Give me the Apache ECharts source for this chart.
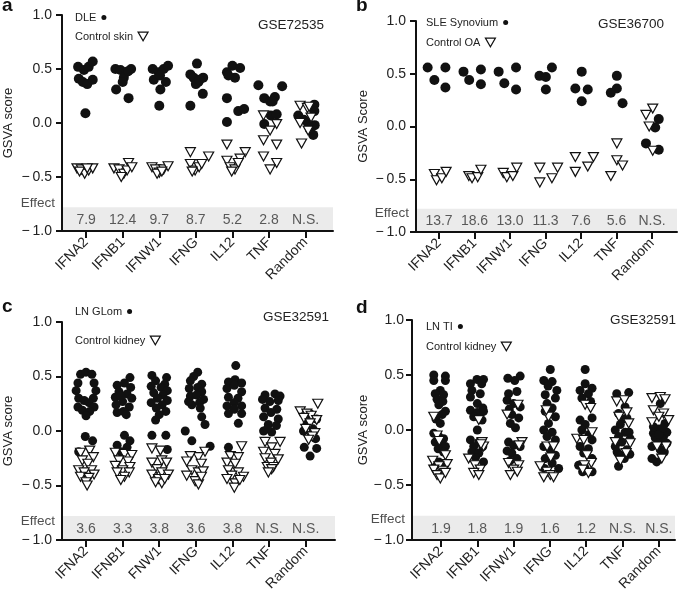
<!DOCTYPE html>
<html><head><meta charset="utf-8">
<script src="https://cdn.jsdelivr.net/npm/echarts@6/dist/echarts.min.js"></script>
<style>html,body{margin:0;padding:0;background:#fff}#c{width:685px;height:595px}</style>
</head><body><div id="c"></div>
<script>
// ---------- DATA ----------
const catsA = ['IFNA2','IFNB1','IFNW1','IFNG','IL12','TNF','Random'];
const catsB = ['IFNA2','IFNB1','IFNW1','IFNG','IL12','TNF','Random'];
const catsC = ['IFNA2','IFNB1','FNW1','IFNG','IL12','TNF','Random'];
const catsD = ['IFNA2','IFNB1','IFNW1','IFNG','IL12','TNF','Random'];

const effectA = ['7.9','12.4','9.7','8.7','5.2','2.8','N.S.'];
const effectB = ['13.7','18.6','13.0','11.3','7.6','5.6','N.S.'];
const effectC = ['3.6','3.3','3.8','3.6','3.8','N.S.','N.S.'];
const effectD = ['1.9','1.8','1.9','1.6','1.2','N.S.','N.S.'];

// each: one list per category of [offset within category, GSVA score]
const aCase = [
 [[-0.22,0.52],[-0.06,0.49],[0.07,0.52],[0.18,0.57],[-0.2,0.41],[-0.09,0.38],[0.03,0.36],[0.18,0.40],[-0.02,0.09]],
 [[-0.2,0.5],[-0.06,0.49],[0.09,0.47],[0.23,0.5],[0.03,0.42],[0.0,0.38],[-0.18,0.31],[0.16,0.23],[0.15,0.48]],
 [[-0.18,0.5],[-0.02,0.47],[0.12,0.5],[0.24,0.53],[-0.15,0.4],[0.02,0.44],[0.18,0.38],[0.03,0.31],[0.0,0.16]],
 [[0.03,0.55],[-0.15,0.45],[-0.06,0.42],[0.07,0.38],[0.2,0.42],[0.0,0.36],[0.19,0.27],[-0.15,0.16],[0.1,0.4]],
 [[-0.15,0.47],[0.0,0.53],[0.21,0.51],[0.07,0.42],[-0.11,0.44],[-0.15,0.23],[0.16,0.11],[0.32,0.13],[-0.15,0.01]],
 [[-0.29,0.35],[0.36,0.34],[-0.13,0.23],[0.03,0.2],[0.16,0.24],[0.05,0.07],[0.21,0.08],[-0.13,-0.01],[0.1,0.2]],
 [[0.24,0.17],[0.24,0.11],[-0.2,0.07],[-0.05,0.03],[0.07,0.0],[0.25,-0.02],[0.21,-0.11],[0.12,-0.06],[0.17,-0.03]]
];
const aCtrl = [
 [[-0.25,-0.42],[-0.13,-0.43],[-0.04,-0.47],[0.07,-0.44],[0.18,-0.42],[-0.18,-0.45],[0.03,-0.42]],
 [[-0.24,-0.42],[-0.1,-0.43],[0.03,-0.47],[0.16,-0.37],[0.12,-0.44],[-0.04,-0.5],[0.25,-0.41]],
 [[-0.2,-0.41],[-0.1,-0.43],[0.0,-0.46],[0.12,-0.43],[0.24,-0.4],[-0.06,-0.47],[0.07,-0.45]],
 [[-0.15,-0.27],[0.35,-0.31],[-0.15,-0.38],[-0.02,-0.44],[0.09,-0.41],[0.16,-0.38],[-0.1,-0.45]],
 [[-0.15,-0.2],[0.35,-0.27],[0.21,-0.33],[-0.15,-0.35],[-0.06,-0.41],[0.07,-0.43],[0.16,-0.37],[-0.02,-0.45]],
 [[-0.15,0.07],[0.21,-0.01],[0.03,-0.07],[-0.15,-0.16],[0.21,-0.2],[-0.15,-0.31],[0.21,-0.37],[0.03,-0.43]],
 [[-0.15,0.16],[0.05,0.14],[0.15,0.05],[-0.15,0.0],[0.07,-0.07],[-0.11,-0.19],[0.1,0.15]]
];
const bCase = [
 [[-0.32,0.56],[-0.13,0.44],[0.18,0.56],[0.18,0.37]],
 [[-0.31,0.52],[-0.15,0.44],[0.18,0.54],[0.18,0.40]],
 [[-0.32,0.52],[-0.16,0.41],[0.17,0.56],[0.17,0.35]],
 [[-0.17,0.48],[0.01,0.47],[0.18,0.56],[0.01,0.35]],
 [[0.02,0.52],[-0.16,0.36],[0.19,0.35],[0.02,0.24]],
 [[0.01,0.48],[0.01,0.36],[-0.16,0.32],[0.17,0.22]],
 [[0.19,0.07],[0.09,-0.01],[-0.17,-0.16],[0.19,-0.22]]
];
const bCtrl = [
 [[-0.13,-0.45],[-0.07,-0.51],[0.08,-0.49],[0.2,-0.43]],
 [[-0.16,-0.47],[-0.07,-0.49],[0.09,-0.48],[0.18,-0.41]],
 [[-0.19,-0.44],[-0.09,-0.48],[0.08,-0.47],[0.19,-0.39]],
 [[-0.16,-0.39],[-0.16,-0.53],[0.18,-0.49],[0.34,-0.39]],
 [[-0.16,-0.29],[0.35,-0.29],[0.19,-0.38],[-0.16,-0.43]],
 [[0.01,-0.16],[0.01,-0.32],[0.17,-0.37],[-0.16,-0.47]],
 [[0.02,0.17],[-0.17,0.11],[-0.08,0.0],[0.02,-0.23]]
];
const cCase = [
 [[-0.15,0.52],[0,0.54],[0.16,0.52],[-0.22,0.44],[0.22,0.44],[-0.27,0.37],[0.27,0.37],[-0.2,0.3],[0.2,0.3],[-0.05,0.28],[0.08,0.26],[-0.22,0.22],[0.22,0.22],[-0.1,0.19],[0.1,0.18],[0,0.14],[-0.02,-0.05],[0.18,-0.09],[-0.2,-0.19]],
 [[0.2,0.49],[0.05,0.44],[-0.15,0.42],[0.22,0.4],[-0.1,0.36],[0.12,0.34],[-0.2,0.31],[0.25,0.3],[0,0.27],[-0.18,0.24],[0.18,0.22],[0.02,0.18],[-0.15,0.17],[0.1,0.15],[-0.05,0.32],[0.05,-0.04],[0.2,-0.09],[-0.15,-0.13],[0.12,-0.15],[-0.05,-0.19]],
 [[-0.2,0.51],[0.2,0.49],[-0.1,0.46],[0.15,0.43],[-0.22,0.41],[0.05,0.4],[0.22,0.37],[-0.15,0.35],[0.1,0.33],[-0.05,0.3],[0.22,0.28],[-0.22,0.26],[0.08,0.24],[-0.08,0.21],[0.18,0.18],[0,0.15],[-0.1,0.1],[-0.2,-0.04],[0.18,-0.04],[0.22,-0.17]],
 [[0.05,0.54],[-0.06,0.5],[-0.15,0.46],[0.16,0.43],[-0.18,0.39],[0.05,0.4],[0.16,0.36],[-0.15,0.32],[0.02,0.33],[0.21,0.29],[-0.11,0.24],[0.1,0.26],[-0.2,0.27],[0.12,0.21],[0.16,0.13],[0.25,0.06],[-0.29,0.0],[-0.11,-0.09],[0.39,-0.14]],
 [[0.09,0.6],[0.07,0.47],[-0.11,0.45],[0.25,0.44],[-0.15,0.39],[0.05,0.42],[0.25,0.36],[-0.11,0.31],[0.15,0.3],[-0.15,0.23],[0.25,0.23],[0.05,0.26],[-0.11,0.16],[0.25,0.16],[0.05,0.2],[0.16,0.07],[-0.11,-0.15]],
 [[-0.11,0.33],[0.16,0.34],[0.3,0.32],[-0.18,0.29],[0.25,0.28],[0.02,0.27],[-0.11,0.21],[0.21,0.2],[0.05,0.17],[-0.15,0.13],[0.25,0.11],[-0.02,0.06],[0.2,0.05],[-0.15,0.0],[0.07,-0.01],[-0.05,0.02]],
 [[0.12,0.16],[0.3,0.11],[0.03,0.06],[-0.06,0.0],[0.16,-0.03],[0.27,-0.07],[-0.04,-0.15],[0.3,-0.16],[0.12,-0.23],[0.1,0.1],[0.2,0.02]]
];
const cCtrl = [
 [[0.1,-0.18],[-0.15,-0.2],[0.2,-0.24],[-0.1,-0.27],[0.05,-0.3],[-0.2,-0.36],[0.15,-0.36],[-0.05,-0.38],[0.22,-0.4],[-0.15,-0.42],[0.08,-0.43],[0,-0.47],[0.03,-0.5]],
 [[-0.2,-0.2],[0.05,-0.21],[0.25,-0.22],[-0.1,-0.27],[0.15,-0.28],[-0.2,-0.32],[0.2,-0.33],[0,-0.36],[-0.15,-0.38],[0.18,-0.38],[0.05,-0.42],[-0.05,-0.45]],
 [[-0.2,-0.16],[0.03,-0.18],[0.07,-0.27],[-0.2,-0.29],[0.2,-0.29],[-0.06,-0.35],[0.07,-0.38],[-0.2,-0.4],[0.25,-0.4],[-0.02,-0.44],[0.07,-0.48],[-0.1,-0.47],[0.15,-0.44]],
 [[0.25,-0.19],[0.07,-0.24],[-0.15,-0.23],[-0.25,-0.28],[0.15,-0.3],[-0.11,-0.36],[0.07,-0.38],[0.2,-0.37],[-0.25,-0.41],[-0.02,-0.46],[0.07,-0.49],[0.15,-0.42]],
 [[0.25,-0.14],[-0.06,-0.23],[0.16,-0.24],[-0.15,-0.29],[0.07,-0.3],[-0.11,-0.36],[0.16,-0.38],[0.3,-0.42],[-0.02,-0.41],[-0.15,-0.44],[0.07,-0.48],[0.05,-0.52],[0.2,-0.45]],
 [[-0.11,-0.1],[0.3,-0.1],[0.07,-0.15],[-0.15,-0.19],[0.16,-0.21],[-0.11,-0.25],[0.25,-0.26],[0.05,-0.29],[-0.05,-0.33],[0.12,-0.33],[0.07,-0.35],[-0.02,-0.38]],
 [[0.33,0.25],[-0.15,0.18],[0.03,0.16],[0.15,0.14],[-0.05,0.12],[0.3,0.1],[0.12,0.07],[0.0,0.02],[0.25,-0.02],[0.18,-0.05],[0.08,-0.08]]
];
const dCase = [
 [[-0.2,0.5],[-0.2,0.45],[0.12,0.49],[0.12,0.45],[-0.02,0.36],[-0.16,0.33],[0.07,0.32],[-0.11,0.28],[0.05,0.26],[-0.06,0.23],[0.12,0.17],[0.03,0.14],[-0.14,0.1],[-0.02,0.06],[-0.2,-0.03],[-0.06,-0.06],[0.07,-0.08],[-0.16,-0.11],[0.01,-0.12],[0.12,-0.15],[-0.08,-0.17],[0.07,-0.2],[-0.06,-0.29],[0.07,-0.31],[-0.16,-0.32]],
 [[-0.19,0.42],[-0.01,0.46],[0.17,0.46],[0.12,0.42],[-0.15,0.36],[0.08,0.33],[-0.19,0.3],[0,0.24],[0.15,0.2],[-0.19,0.18],[0,0.16],[0.17,0.17],[-0.1,0.12],[0.13,0.09],[0,0.0],[-0.19,-0.09],[0.04,-0.11],[-0.1,-0.15],[0.15,-0.15],[-0.15,-0.2],[0.04,-0.21],[0.17,-0.29],[-0.05,-0.25]],
 [[-0.16,0.47],[0.03,0.45],[0.18,0.49],[0.09,0.35],[-0.14,0.33],[-0.18,0.27],[0,0.24],[0.18,0.21],[-0.12,0.19],[-0.05,0.14],[0.14,0.11],[-0.09,0.06],[0.05,0.02],[-0.14,-0.11],[0,-0.14],[0.18,-0.15],[-0.18,-0.19],[-0.05,-0.21],[0.09,-0.26],[-0.1,-0.28]],
 [[0.01,0.55],[-0.17,0.45],[0.06,0.44],[-0.05,0.4],[0.19,0.36],[-0.13,0.32],[0.15,0.29],[-0.08,0.24],[0.06,0.2],[-0.13,0.17],[0.15,0.12],[-0.04,0.06],[-0.17,0.0],[0.06,-0.02],[-0.08,-0.06],[0.15,-0.09],[-0.17,-0.15],[0.01,-0.18],[0.15,-0.23],[-0.13,-0.26],[0.06,-0.3],[0.24,-0.35],[-0.15,-0.35]],
 [[-0.03,0.55],[-0.03,0.42],[0.16,0.38],[-0.17,0.36],[0.06,0.33],[-0.12,0.29],[0.12,0.26],[-0.17,0.09],[0.16,0.11],[-0.03,0.05],[-0.12,0.0],[0.08,-0.04],[0.16,-0.09],[-0.17,-0.15],[0.06,-0.17],[-0.07,-0.21],[0.16,-0.26],[-0.21,-0.32],[-0.03,-0.35],[0.16,-0.38],[-0.1,-0.38]],
 [[-0.16,0.33],[0.17,0.34],[0.07,0.21],[0,0.1],[-0.11,0.15],[0.12,0.11],[-0.06,0.05],[-0.2,0.0],[0.07,-0.02],[0.18,-0.02],[-0.11,-0.06],[0.21,-0.08],[-0.02,-0.11],[-0.2,-0.15],[0.12,-0.18],[-0.15,-0.2],[0.2,-0.22],[-0.06,-0.23],[0.05,-0.26],[-0.11,-0.33]],
 [[0.04,0.24],[0.17,0.06],[-0.01,0.01],[-0.15,-0.03],[0.13,-0.06],[0.22,-0.02],[-0.01,-0.12],[0.22,-0.12],[-0.19,-0.15],[0.04,-0.18],[0.15,-0.2],[-0.19,-0.26],[-0.06,-0.29],[0.08,-0.08],[-0.1,-0.07],[0.0,-0.04],[0.12,0.02],[-0.15,0.03]]
];
const dCtrl = [
 [[-0.2,0.12],[-0.11,-0.05],[-0.05,-0.1],[0.12,-0.23],[-0.23,-0.28],[0.17,-0.31],[-0.06,-0.33],[-0.2,-0.36],[0.05,-0.37],[-0.11,-0.41],[-0.02,-0.44],[0.12,-0.39]],
 [[0.04,0.09],[0.13,-0.11],[0.17,-0.15],[-0.24,-0.26],[-0.06,-0.32],[0.08,-0.36],[-0.1,-0.39],[0.04,-0.41],[0.1,-0.13]],
 [[-0.18,0.14],[0.23,-0.11],[0.15,-0.14],[-0.14,-0.3],[0.14,-0.32],[0,-0.36],[-0.09,-0.41],[0.1,-0.38],[0.12,0.23]],
 [[-0.04,0.12],[-0.08,-0.15],[0.1,-0.15],[-0.27,-0.33],[-0.08,-0.38],[0.01,-0.41],[0.1,-0.43],[-0.17,-0.43],[0.02,-0.25],[-0.1,0.18]],
 [[-0.03,0.23],[0.12,0.2],[-0.26,-0.08],[-0.07,-0.09],[0.16,-0.02],[0.02,-0.23],[0.14,-0.3],[-0.05,-0.32],[0.06,-0.39],[-0.1,-0.36]],
 [[-0.16,0.26],[0.05,0.27],[0.12,0.16],[0.17,0.06],[-0.2,-0.11],[0.21,-0.12],[-0.06,-0.28],[0.1,-0.21],[-0.1,0.12]],
 [[-0.19,0.29],[0.04,0.3],[0.17,0.28],[-0.15,0.18],[0.13,0.15],[0.27,0.09],[-0.19,0.07],[0.0,0.12],[0.08,-0.26],[0.2,-0.15],[-0.05,-0.15]]
];

// ---------- LAYOUT ----------
const FONT = 'Liberation Sans, Arial, Helvetica, sans-serif';
const TRI = 'path://M0,0L10,0L5,8.66Z';
const panels = [
 {letter:'a', grid:{left:62,top:15,width:271,height:216}, xMin:-0.66, xMax:6.75, cats:catsA, effect:effectA,
  caseName:'DLE', ctrlName:'Control skin', caseData:aCase, ctrlData:aCtrl, yName:'GSVA score', nameGap:47, labelMargin:10,
  letterPos:{left:2,top:-4}, gse:'GSE72535', gsePos:{left:258,top:18}, legLeft:75, legTop:[12,31], effY:-0.74, dot:10},
 {letter:'b', grid:{left:416,top:21,width:261,height:211}, xMin:-0.648, xMax:6.704, cats:catsB, effect:effectB,
  caseName:'SLE Synovium', ctrlName:'Control OA', caseData:bCase, ctrlData:bCtrl, yName:'GSVA Score', nameGap:46, labelMargin:10,
  letterPos:{left:356,top:-4}, gse:'GSE36700', gsePos:{left:598,top:17}, legLeft:426, legTop:[17,37], effY:-0.82, dot:10},
 {letter:'c', grid:{left:62,top:322,width:273,height:218}, xMin:-0.656, xMax:6.80, cats:catsC, effect:effectC,
  caseName:'LN GLom', ctrlName:'Control kidney', caseData:cCase, ctrlData:cCtrl, yName:'GSVA score', nameGap:47, labelMargin:10,
  letterPos:{left:2,top:297}, gse:'GSE32591', gsePos:{left:263,top:310}, legLeft:75, legTop:[306,335], effY:-0.83, dot:9},
 {letter:'d', grid:{left:412,top:320,width:263,height:220}, xMin:-0.8, xMax:6.445, cats:catsD, effect:effectD,
  caseName:'LN TI', ctrlName:'Control kidney', caseData:dCase, ctrlData:dCtrl, yName:'GSVA score', nameGap:42, labelMargin:8,
  letterPos:{left:356,top:298}, gse:'GSE32591', gsePos:{left:610,top:313}, legLeft:426, legTop:[321,341], effY:-0.81, dot:9}
];

const toPoints = (groups) => groups.flatMap((g, ci) => g.map(([dx, v]) => [ci + dx, v]));
const fmtY = v => (v < 0 ? '\u2212\u2009' : '') + Math.abs(v).toFixed(1);
const idx = [0,1,2,3,4,5,6];
const axisColor = '#111';

const option = {animation:false, backgroundColor:'#fff', textStyle:{fontFamily:FONT},
  grid:[], xAxis:[], yAxis:[], series:[], title:[], legend:[]};

panels.forEach((p, k) => {
  option.grid.push(Object.assign({containLabel:false}, p.grid));
  option.xAxis.push({type:'value', gridIndex:k, min:p.xMin, max:p.xMax, z:5,
    axisLine:{show:true, onZero:false, lineStyle:{color:axisColor, width:2}},
    axisTick:{show:true, length:7, customValues:idx, lineStyle:{color:axisColor, width:2}},
    axisLabel:{customValues:idx, formatter:v => p.cats[Math.round(v)], rotate:45, fontSize:14, color:'#222', margin:9, fontFamily:FONT},
    splitLine:{show:false}});
  option.yAxis.push({type:'value', gridIndex:k, min:-1, max:1, interval:0.5, z:5,
    axisLine:{show:true, onZero:false, lineStyle:{color:axisColor, width:2}},
    axisTick:{show:true, length:6, lineStyle:{color:axisColor, width:2}},
    axisLabel:{formatter:fmtY, fontSize:14, color:'#222', margin:p.labelMargin, fontFamily:FONT},
    splitLine:{show:false},
    name:p.yName, nameLocation:'middle', nameGap:p.nameGap, nameMoveOverlap:false,
    nameTextStyle:{fontSize:13, color:'#222', fontFamily:FONT}});
  // effect band
  option.series.push({type:'scatter', xAxisIndex:k, yAxisIndex:k, z:1, silent:true, symbolSize:0,
    data:[[p.xMin, -1]],
    markArea:{silent:true, itemStyle:{color:'#ebebeb'}, data:[[{yAxis:-1},{yAxis:-0.78}]]}});
  option.series.push({type:'scatter', name:p.caseName, xAxisIndex:k, yAxisIndex:k, z:2,
    symbol:'circle', symbolSize:p.dot, itemStyle:{color:'#111', opacity:1},
    data:toPoints(p.caseData)});
  option.series.push({type:'scatter', name:p.ctrlName, xAxisIndex:k, yAxisIndex:k, z:3,
    symbol:TRI, symbolSize:[10,9], itemStyle:{color:'#fff', borderColor:'#111', borderWidth:1.2, opacity:1},
    data:toPoints(p.ctrlData)});
  option.series.push({type:'scatter', xAxisIndex:k, yAxisIndex:k, z:4, silent:true, symbolSize:0,
    data:p.effect.map((t, i) => [i, -0.9, t]),
    label:{show:true, position:'inside', formatter:q => q.data[2], fontSize:14, color:'#333', fontFamily:FONT}});
  option.series.push({type:'scatter', xAxisIndex:k, yAxisIndex:k, z:4, silent:true, symbolSize:0,
    data:[[p.xMin, p.effY]],
    label:{show:true, position:'left', distance:7, formatter:'Effect', fontSize:13.5, color:'#222', fontFamily:FONT}});
  option.title.push({text:p.letter, left:p.letterPos.left, top:p.letterPos.top, padding:0,
    textStyle:{fontSize:19, fontWeight:'bold', color:'#111', fontFamily:FONT}});
  option.title.push({text:p.gse, left:p.gsePos.left, top:p.gsePos.top, padding:0,
    textStyle:{fontSize:13.5, fontWeight:'normal', color:'#222', fontFamily:FONT}});
  option.legend.push({data:[p.caseName], left:p.legLeft, top:p.legTop[0], padding:0, align:'right',
    selectedMode:false, icon:'circle', itemWidth:5, itemHeight:5,
    itemStyle:{color:'#111', borderWidth:0},
    textStyle:{fontSize:11, color:'#222', fontFamily:FONT}});
  option.legend.push({data:[p.ctrlName], left:p.legLeft, top:p.legTop[1], padding:0, align:'right',
    selectedMode:false, icon:TRI, itemWidth:10, itemHeight:9,
    itemStyle:{color:'#fff', borderColor:'#111', borderWidth:1.2},
    textStyle:{fontSize:11, color:'#222', fontFamily:FONT}});
});

const chart = echarts.init(document.getElementById('c'), null, {renderer:'canvas'});
chart.setOption(option);
</script>
</body></html>
